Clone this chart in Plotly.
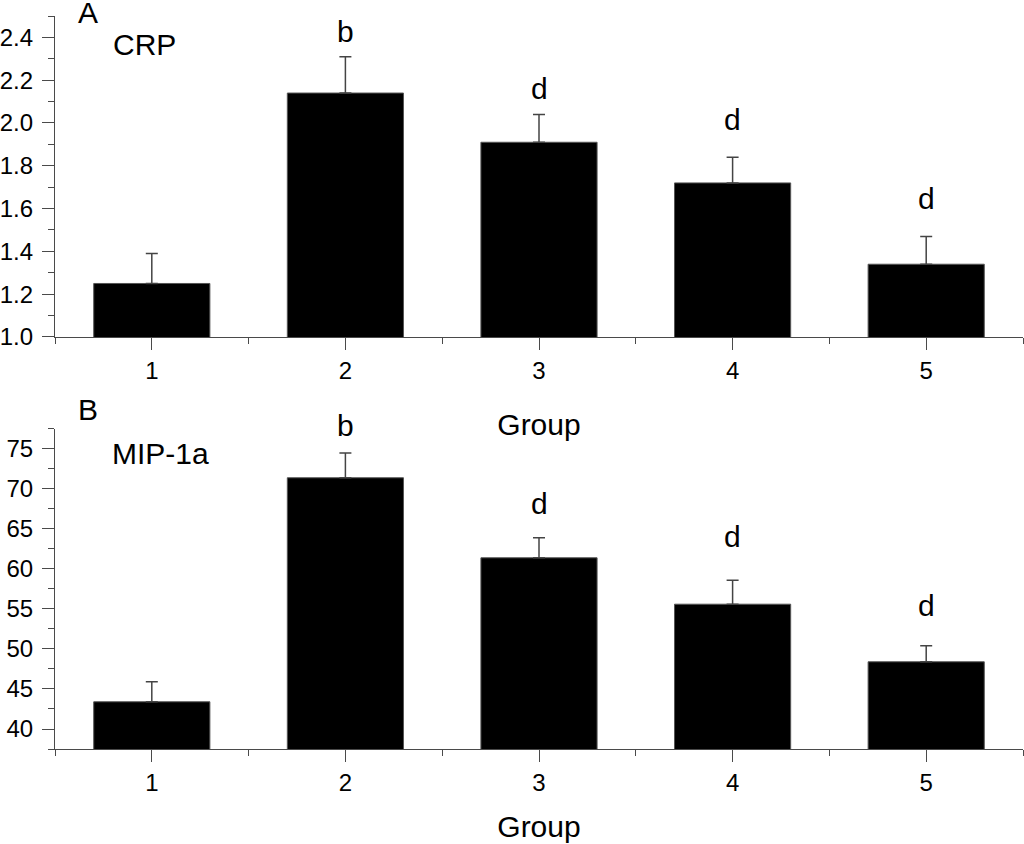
import plotly.graph_objects as go

# ---- data ----
groups = [1, 2, 3, 4, 5]
crp_mean = [1.25, 2.14, 1.91, 1.72, 1.34]
crp_err = [0.14, 0.17, 0.13, 0.12, 0.13]
crp_letters = ["", "b", "d", "d", "d"]
mip_mean = [43.4, 71.4, 61.4, 55.6, 48.4]
mip_err = [2.5, 3.1, 2.5, 3.0, 2.0]
mip_letters = ["", "b", "d", "d", "d"]

FONT = "Liberation Sans, Arial, sans-serif"
AX = "#4a4a4a"

fig = go.Figure()

for mean, err, xa, ya in [(crp_mean, crp_err, "x", "y"), (mip_mean, mip_err, "x2", "y2")]:
    fig.add_trace(go.Bar(
        x=groups, y=mean, width=0.6,
        marker=dict(color="black", line=dict(color="#555555", width=1)),
        error_y=dict(type="data", array=err, arrayminus=[0] * len(err), symmetric=False,
                     color="#444444", thickness=1.5, width=6),
        xaxis=xa, yaxis=ya, showlegend=False,
    ))

def xaxis_cfg(title, standoff, anchor):
    return dict(
        range=[0.5, 5.5], tickmode="array", tickvals=groups, ticktext=[str(g) for g in groups],
        showline=True, linecolor=AX, linewidth=1.2, ticks="outside", ticklen=12, tickcolor=AX,
        tickwidth=1.2, showgrid=False, zeroline=False, automargin=False,
        minor=dict(tickmode="linear", tick0=0.5, dtick=1, ticks="outside", ticklen=6,
                   tickcolor=AX, tickwidth=1.2, showgrid=False),
        tickfont=dict(family=FONT, size=24, color="black"),
        title=dict(text=title, font=dict(family=FONT, size=30, color="black"), standoff=standoff),
        anchor=anchor,
    )

def yaxis_cfg(rng, dtick, minor_dtick, fmt, domain, anchor):
    return dict(
        range=rng, domain=domain, dtick=dtick, tick0=0, tickformat=fmt,
        showline=True, linecolor=AX, linewidth=1.2, ticks="outside", ticklen=12, tickcolor=AX,
        tickwidth=1.2, showgrid=False, zeroline=False, automargin=False, ticklabelstandoff=4,
        minor=dict(dtick=minor_dtick, ticks="outside", ticklen=6, tickcolor=AX,
                   tickwidth=1.2, showgrid=False),
        tickfont=dict(family=FONT, size=24, color="black"),
        anchor=anchor,
    )

fig.update_layout(
    width=1024, height=844,
    margin=dict(l=55, r=1, t=16, b=95, autoexpand=False),
    paper_bgcolor="white", plot_bgcolor="white",
    bargap=0.4,
    xaxis=xaxis_cfg("Group", 31, "y"),
    yaxis=yaxis_cfg([1.0, 2.5], 0.2, 0.1, ".1f", [0.5621, 1.0], "x"),
    xaxis2=xaxis_cfg("Group", 21, "y2"),
    yaxis2=yaxis_cfg([37.5, 77.5], 5, 2.5, "d", [0.0, 0.4366], "x2"),
    font=dict(family=FONT, color="black"),
)

annotations = []
crp_shift = [0, 7, 7, 19, 19]
mip_shift = [0, 9, 16, 25, 22]
for g, m, e, t, s in zip(groups, crp_mean, crp_err, crp_letters, crp_shift):
    if t:
        annotations.append(dict(x=g, y=m + e, xref="x", yref="y", text=t, showarrow=False,
                                yanchor="bottom", yshift=s, font=dict(family=FONT, size=30)))
for g, m, e, t, s in zip(groups, mip_mean, mip_err, mip_letters, mip_shift):
    if t:
        annotations.append(dict(x=g, y=m + e, xref="x2", yref="y2", text=t, showarrow=False,
                                yanchor="bottom", yshift=s, font=dict(family=FONT, size=30)))

# panel letters and marker names, positioned in pixel-derived paper coords
H = 733.0
def py(px):
    return (749 - px) / H
def px_x(px):
    return (px - 55) / 968.0
annotations += [
    dict(text="A", x=px_x(76), y=py(-6), xref="paper", yref="paper", xanchor="left", yanchor="top",
         showarrow=False, font=dict(family=FONT, size=30)),
    dict(text="CRP", x=px_x(111), y=py(26), xref="paper", yref="paper", xanchor="left", yanchor="top",
         showarrow=False, font=dict(family=FONT, size=30)),
    dict(text="B", x=px_x(76), y=py(391), xref="paper", yref="paper", xanchor="left", yanchor="top",
         showarrow=False, font=dict(family=FONT, size=30)),
    dict(text="MIP-1a", x=px_x(110), y=py(435), xref="paper", yref="paper", xanchor="left", yanchor="top",
         showarrow=False, font=dict(family=FONT, size=30)),
]
fig.update_layout(annotations=annotations)

# the page's default 8px body margin would shift the figure; remove it so pixels line up
fig.write_html("out.html", config={"displayModeBar": False},
               post_script="document.body.style.margin='0px';")
